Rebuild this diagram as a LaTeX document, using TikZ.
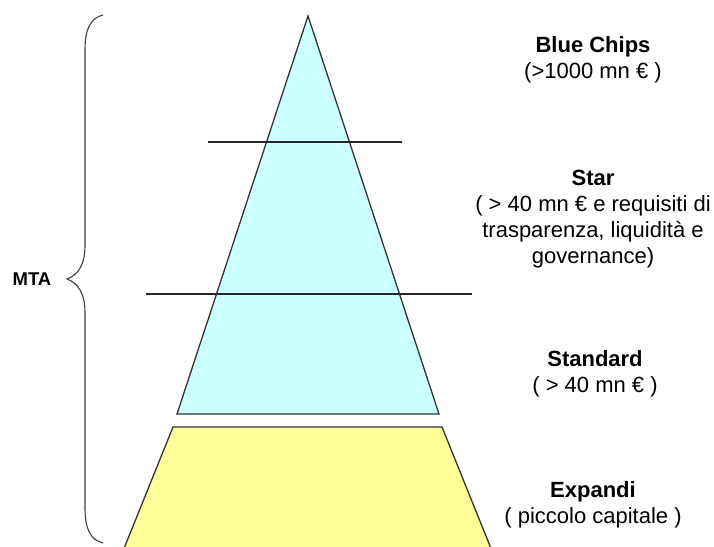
\documentclass[tikz,border=0pt]{standalone}
\usepackage{fontspec}
\setmainfont{Liberation Sans}
\definecolor{cyanfill}{HTML}{CCFFFF}
\definecolor{yelfill}{HTML}{FFFF99}
\definecolor{edge}{HTML}{333333}
\begin{document}
\begin{tikzpicture}[x=1pt,y=-1pt,
  solid shape/.style={draw=edge,line width=1.3pt,line join=miter},
  sep line/.style={draw=black!85,line width=1.3pt},
  brace line/.style={draw=black!75,line width=1.1pt},
  tier label/.style={align=center,inner sep=0pt,font=\fontsize{22}{26}\selectfont}]
\useasboundingbox (0,0) rectangle (714,546);
\clip (0,0) rectangle (714,546);
% pyramid
\coordinate (apex) at (308,16);
\coordinate (bl) at (177,414);
\coordinate (br) at (439,414);
\filldraw[solid shape,fill=cyanfill] (apex) -- (bl) -- (br) -- cycle;
% separators
\coordinate (s1a) at (208,142);
\coordinate (s1b) at (402,142);
\coordinate (s2a) at (146,294);
\coordinate (s2b) at (472,294);
\draw[sep line] (s1a) -- (s1b);
\draw[sep line] (s2a) -- (s2b);
% trapezoid
\coordinate (tl) at (173,427);
\coordinate (tr) at (442,427);
\coordinate (dr) at (491.2,549);
\coordinate (dl) at (123.8,549);
\filldraw[solid shape,fill=yelfill] (tl) -- (tr) -- (dr) -- (dl) -- cycle;
% brace
\coordinate (btop) at (103,15);
\coordinate (btip) at (67,279);
\coordinate (bbot) at (103,543);
\draw[brace line] (btop) .. controls (91,18) and (85,28) .. (85,50) -- (85,245)
  .. controls (85,265) and (78,275) .. (btip)
  .. controls (78,283) and (85,293) .. (85,313) -- (85,508)
  .. controls (85,530) and (91,540) .. (bbot);
\node[font=\bfseries\fontsize{18.5}{22}\selectfont,anchor=center] (mta) at (32,279) {MTA};
% labels
\node[tier label] (blue) at (593,60) {\textbf{Blue Chips}\\(>1000 mn € )};
\node[tier label] (star) at (593,219) {\textbf{Star}\\( > 40 mn € e requisiti di\\trasparenza, liquidità e\\governance)};
\node[tier label] (std) at (595,374) {\textbf{Standard}\\( > 40 mn € )};
\node[tier label] (exp) at (593,505) {\textbf{Expandi}\\( piccolo capitale )};
\end{tikzpicture}
\end{document}
